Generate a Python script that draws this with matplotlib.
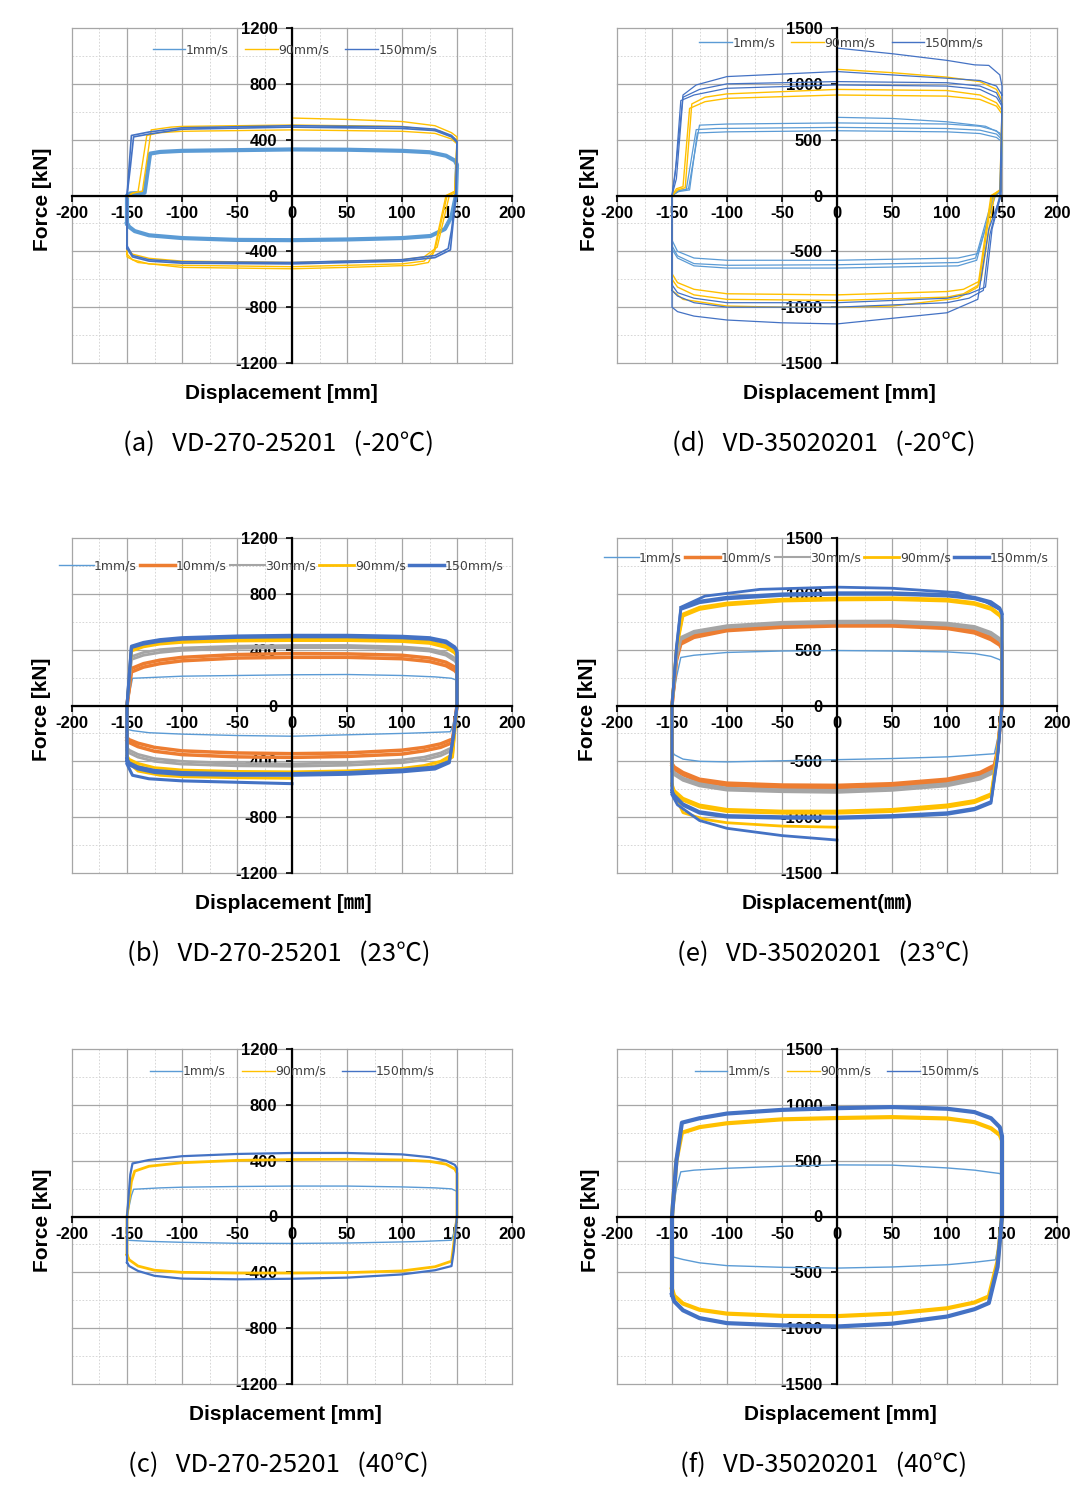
import matplotlib.pyplot as plt
import numpy as np
from matplotlib.lines import Line2D

plt.rcParams['axes.unicode_minus'] = False

C_1 = '#5B9BD5'
C_10 = '#ED7D31'
C_30 = '#A5A5A5'
C_90 = '#FFC000'
C_150 = '#4472C4'

# ---- (a) VD-270-25201 (-20C) : loops as (disp mm, force kN)
a_1mm = [(-150, -200), (-150, 0), (-147, 15), (-134, 20), (-129, 300), (-120, 312), (-100, 320),
         (-50, 325), (0, 330), (50, 328), (100, 320), (125, 310), (140, 285), (148, 250), (150, 220),
         (149, 0), (145, -150), (139, -240), (126, -290), (100, -305), (50, -315), (0, -320),
         (-50, -318), (-100, -305), (-130, -285), (-143, -255), (-148, -225), (-150, -200)]
a_90mm_1 = [(-150, -380), (-150, -20), (-146, 15), (-140, 25), (-132, 430), (-120, 450), (-100, 460),
            (0, 470), (100, 460), (130, 445), (145, 405), (150, 370), (149, 20), (143, 0), (132, -370),
            (120, -440), (100, -460), (0, -480), (-100, -470), (-130, -450), (-145, -420), (-150, -380)]
a_90mm_2 = [(-150, -420), (-150, -10), (-144, 20), (-136, 30), (-128, 470), (-110, 490), (-100, 495),
            (0, 505), (100, 495), (135, 460), (148, 410), (150, 390), (148, 30), (140, 0), (129, -400),
            (120, -470), (100, -490), (0, -510), (-100, -500), (-130, -490), (-145, -460), (-150, -420)]
a_90mm_0 = [(0, 555), (50, 545), (100, 530), (130, 500), (145, 450), (150, 420), (148, 30), (141, 0),
            (130, -390), (124, -480), (110, -500), (50, -515), (0, -525), (-50, -520), (-100, -515),
            (-140, -480), (-150, -440), (-150, -30)]
a_150mm_1 = [(-150, -360), (-150, 0), (-147, 200), (-144, 420), (-130, 440), (-100, 475), (0, 490),
             (100, 480), (130, 465), (145, 420), (150, 380), (149, 0), (145, -250), (142, -380),
             (130, -430), (100, -460), (0, -480), (-100, -475), (-130, -460), (-145, -430), (-150, -360)]
a_150mm_2 = [(-150, -380), (-150, 0), (-146, 430), (-130, 455), (-100, 485), (0, 500), (100, 492),
             (130, 475), (145, 430), (150, 390), (149, 0), (144, -390), (130, -445), (100, -470),
             (0, -490), (-100, -485), (-130, -470), (-145, -440), (-150, -380)]

# ---- (d) VD-35020201 (-20C)
d_1mm_1 = [(-150, -400), (-150, 0), (-145, 40), (-137, 55), (-128, 590), (-110, 600), (0, 610),
           (100, 600), (130, 585), (145, 550), (150, 500), (149, 40), (144, 0), (128, -520),
           (110, -560), (0, -580), (-100, -580), (-130, -560), (-145, -500), (-150, -400)]
d_1mm_2 = [(-150, -450), (-150, 0), (-143, 45), (-135, 60), (-125, 630), (-100, 640), (0, 650),
           (100, 640), (130, 620), (145, 580), (150, 520), (148, 40), (142, 0), (126, -560),
           (110, -600), (0, -620), (-100, -625), (-130, -610), (-145, -540), (-150, -450)]
d_1mm_3 = [(-150, -480), (-150, 0), (-144, 35), (-134, 50), (-127, 560), (-100, 570), (0, 580),
           (100, 570), (130, 555), (145, 520), (150, 480), (149, 30), (143, 0), (127, -580),
           (110, -630), (0, -650), (-100, -650), (-130, -630), (-145, -560), (-150, -480)]
d_1mm_0 = [(0, 700), (50, 690), (100, 660), (135, 620), (148, 560), (150, 520)]
d_90mm_1 = [(-150, -700), (-150, 0), (-146, 60), (-140, 80), (-134, 780), (-120, 840), (-100, 870),
            (0, 900), (100, 890), (130, 860), (145, 800), (150, 730), (149, 60), (143, 0), (131, -760),
            (115, -840), (100, -860), (0, -890), (-100, -880), (-130, -840), (-145, -780), (-150, -700)]
d_90mm_2 = [(-150, -750), (-150, 0), (-145, 50), (-138, 70), (-132, 820), (-120, 880), (-100, 910),
            (0, 950), (100, 940), (130, 900), (145, 830), (150, 760), (148, 50), (141, 0), (129, -800),
            (115, -880), (100, -910), (0, -940), (-100, -930), (-130, -890), (-145, -820), (-150, -750)]
d_90mm_0 = [(0, 1130), (50, 1100), (100, 1060), (130, 1020), (145, 950), (150, 850), (149, 50),
            (140, 0), (128, -820), (110, -920), (50, -990), (0, -1000), (-50, -1000), (-100, -990),
            (-140, -930), (-150, -850), (-150, 0)]
d_150mm_1 = [(-150, -800), (-150, 0), (-147, 200), (-142, 850), (-130, 900), (-100, 960), (0, 990),
             (100, 980), (130, 950), (145, 880), (150, 800), (149, 0), (141, -300), (135, -820),
             (120, -880), (100, -920), (0, -960), (-100, -960), (-130, -920), (-145, -870), (-150, -800)]
d_150mm_2 = [(-150, -850), (-150, 0), (-146, 150), (-140, 880), (-125, 950), (-100, 1000), (0, 1020),
             (100, 1010), (130, 980), (145, 920), (150, 820), (148, 0), (139, -350), (133, -850),
             (120, -920), (100, -960), (0, -1000), (-100, -1000), (-130, -960), (-145, -900), (-150, -850)]
d_150mm_0 = [(0, 1320), (50, 1270), (100, 1210), (125, 1170), (138, 1165), (148, 1080), (150, 980),
             (149, 0), (138, -300), (128, -930), (100, -1050), (50, -1100), (0, -1150), (-50, -1140),
             (-100, -1115), (-130, -1080), (-145, -1040), (-150, -1000), (-150, 0), (-146, 300),
             (-140, 900), (-128, 990), (-100, 1065), (0, 1110), (100, 1050), (130, 1030), (145, 980),
             (150, 900)]

# ---- (b) VD-270-25201 (23C)
b_1mm = [(-150, -170), (-150, 0), (-145, 195), (-130, 200), (-100, 210), (-50, 215), (0, 220),
         (50, 222), (100, 215), (130, 205), (145, 195), (150, 180), (150, 0), (146, -150), (144, -188),
         (120, -195), (100, -200), (50, -210), (0, -220), (-50, -215), (-100, -205), (-130, -195),
         (-145, -180), (-150, -170)]
b_10mm_1 = [(-150, -230), (-150, 0), (-146, 240), (-135, 275), (-120, 300), (-100, 320), (-50, 340),
            (0, 345), (50, 345), (100, 335), (125, 315), (140, 285), (148, 250), (150, 230), (150, 0),
            (146, -240), (135, -275), (120, -300), (100, -320), (50, -340), (0, -345), (-50, -340),
            (-100, -325), (-125, -300), (-140, -270), (-148, -245), (-150, -230)]
b_10mm_2 = [(-150, -250), (-150, 0), (-146, 265), (-135, 300), (-120, 325), (-100, 345), (-50, 365),
            (0, 372), (50, 370), (100, 360), (125, 340), (140, 310), (148, 275), (150, 255), (150, 0),
            (146, -265), (135, -300), (120, -325), (100, -348), (50, -365), (0, -372), (-50, -368),
            (-100, -352), (-125, -328), (-140, -295), (-148, -265), (-150, -250)]
b_30mm_1 = [(-150, -300), (-150, 0), (-146, 330), (-135, 360), (-120, 380), (-100, 395), (-50, 410),
            (0, 415), (50, 415), (100, 405), (125, 390), (140, 360), (148, 320), (150, 295), (150, 0),
            (146, -300), (135, -340), (120, -370), (100, -390), (50, -410), (0, -418), (-50, -415),
            (-100, -400), (-125, -380), (-140, -350), (-148, -320), (-150, -300)]
b_30mm_2 = [(-150, -320), (-150, 0), (-146, 350), (-135, 380), (-120, 400), (-100, 412), (-50, 425),
            (0, 430), (50, 430), (100, 420), (125, 405), (140, 378), (148, 340), (150, 315), (150, 0),
            (146, -320), (135, -360), (120, -390), (100, -410), (50, -428), (0, -435), (-50, -432),
            (-100, -420), (-125, -400), (-140, -370), (-148, -340), (-150, -320)]
b_90mm_1 = [(-150, -360), (-150, 0), (-146, 390), (-135, 420), (-120, 440), (-100, 452), (-50, 462),
            (0, 465), (50, 465), (100, 458), (125, 445), (140, 415), (148, 375), (150, 345), (150, 0),
            (146, -350), (135, -400), (120, -430), (100, -450), (50, -468), (0, -475), (-50, -472),
            (-100, -462), (-125, -445), (-140, -415), (-148, -385), (-150, -360)]
b_90mm_2 = [(-150, -380), (-150, 0), (-146, 405), (-135, 435), (-120, 455), (-100, 466), (-50, 476),
            (0, 480), (50, 480), (100, 472), (125, 458), (140, 430), (148, 390), (150, 360), (150, 0),
            (146, -370), (135, -420), (120, -450), (100, -468), (50, -485), (0, -492), (-50, -490),
            (-100, -480), (-125, -465), (-140, -435), (-148, -400), (-150, -380)]
b_90mm_0 = [(-150, -400), (-140, -470), (-120, -500), (-100, -510), (-50, -518), (0, -522)]
b_150mm_1 = [(-150, -380), (-150, 0), (-146, 415), (-135, 440), (-120, 460), (-100, 475), (-50, 488),
             (0, 492), (50, 492), (100, 485), (125, 475), (140, 450), (148, 410), (150, 380), (150, 0),
             (147, -200), (143, -400), (130, -440), (100, -462), (50, -480), (0, -488), (-50, -488),
             (-100, -480), (-125, -465), (-140, -440), (-148, -410), (-150, -380)]
b_150mm_2 = [(-150, -400), (-150, 0), (-146, 425), (-135, 452), (-120, 472), (-100, 486), (-50, 498),
             (0, 503), (50, 503), (100, 496), (125, 486), (140, 462), (148, 420), (150, 395), (150, 0),
             (147, -210), (143, -410), (130, -455), (100, -475), (50, -493), (0, -500), (-50, -500),
             (-100, -495), (-125, -480), (-140, -455), (-148, -425), (-150, -400)]
b_150mm_0 = [(-150, -420), (-145, -500), (-130, -525), (-100, -540), (-50, -550), (0, -560)]

# ---- (e) VD-35020201 (23C)
e_1mm = [(-150, -400), (-150, 0), (-146, 250), (-142, 430), (-130, 450), (-100, 475), (-50, 488),
         (0, 492), (50, 488), (100, 480), (125, 465), (140, 440), (148, 410), (150, 385), (150, 0),
         (146, -300), (143, -432), (120, -448), (100, -460), (50, -475), (0, -485), (-50, -495),
         (-100, -505), (-125, -500), (-140, -480), (-148, -440), (-150, -400)]
e_10mm_1 = [(-150, -520), (-150, 0), (-146, 400), (-142, 550), (-130, 610), (-100, 670), (-50, 700),
            (0, 712), (50, 712), (100, 690), (125, 650), (140, 590), (148, 540), (150, 505), (150, 0),
            (146, -400), (143, -535), (130, -600), (100, -660), (50, -700), (0, -715), (-50, -712),
            (-100, -695), (-125, -660), (-140, -600), (-148, -550), (-150, -520)]
e_10mm_2 = [(-150, -540), (-150, 0), (-146, 420), (-142, 570), (-130, 630), (-100, 690), (-50, 720),
            (0, 730), (50, 730), (100, 710), (125, 670), (140, 610), (148, 560), (150, 525), (150, 0),
            (146, -420), (143, -555), (130, -620), (100, -680), (50, -720), (0, -735), (-50, -732),
            (-100, -715), (-125, -680), (-140, -620), (-148, -570), (-150, -540)]
e_30mm_1 = [(-150, -570), (-150, 0), (-146, 420), (-142, 590), (-130, 650), (-100, 700), (-50, 730),
            (0, 740), (50, 742), (100, 720), (125, 690), (140, 635), (148, 580), (150, 550), (150, 0),
            (146, -420), (143, -580), (130, -640), (100, -700), (50, -740), (0, -760), (-50, -755),
            (-100, -740), (-125, -700), (-140, -650), (-148, -600), (-150, -570)]
e_30mm_2 = [(-150, -590), (-150, 0), (-146, 440), (-142, 610), (-130, 665), (-100, 715), (-50, 745),
            (0, 755), (50, 757), (100, 738), (125, 708), (140, 655), (148, 600), (150, 570), (150, 0),
            (146, -440), (143, -600), (130, -660), (100, -720), (50, -760), (0, -778), (-50, -772),
            (-100, -758), (-125, -720), (-140, -670), (-148, -620), (-150, -590)]
e_90mm_1 = [(-150, -700), (-150, 0), (-146, 500), (-140, 800), (-125, 860), (-100, 900), (-50, 935),
            (0, 945), (50, 948), (100, 935), (125, 905), (140, 860), (148, 800), (150, 760), (150, 0),
            (146, -400), (140, -790), (125, -850), (100, -890), (50, -930), (0, -945), (-50, -945),
            (-100, -930), (-125, -890), (-140, -830), (-148, -760), (-150, -700)]
e_90mm_2 = [(-150, -720), (-150, 0), (-146, 520), (-140, 820), (-125, 880), (-100, 918), (-50, 952),
            (0, 962), (50, 965), (100, 952), (125, 922), (140, 878), (148, 818), (150, 778), (150, 0),
            (146, -420), (140, -810), (125, -870), (100, -910), (50, -950), (0, -965), (-50, -965),
            (-100, -950), (-125, -910), (-140, -850), (-148, -780), (-150, -720)]
e_90mm_0 = [(-150, -760), (-140, -960), (-120, -1020), (-100, -1050), (-50, -1080), (0, -1090)]
e_150mm_1 = [(-150, -760), (-150, 0), (-146, 500), (-142, 860), (-125, 920), (-100, 955), (-50, 985),
             (0, 995), (50, 995), (100, 980), (125, 955), (140, 915), (148, 860), (150, 820), (150, 0),
             (146, -450), (140, -860), (125, -920), (100, -960), (50, -985), (0, -998), (-50, -995),
             (-100, -985), (-125, -950), (-140, -880), (-148, -800), (-150, -760)]
e_150mm_2 = [(-150, -780), (-150, 0), (-146, 520), (-142, 875), (-125, 935), (-100, 970), (-50, 1000),
             (0, 1010), (50, 1010), (100, 995), (125, 970), (140, 930), (148, 875), (150, 835), (150, 0),
             (146, -465), (140, -875), (125, -935), (100, -975), (50, -1000), (0, -1012), (-50, -1010),
             (-100, -1000), (-125, -965), (-140, -895), (-148, -815), (-150, -780)]
e_150mm_0a = [(-142, 880), (-120, 980), (-70, 1040), (0, 1060), (50, 1050), (110, 1010), (135, 930),
              (148, 860), (150, 820)]
e_150mm_0b = [(-150, -800), (-145, -890), (-125, -1030), (-100, -1100), (-50, -1165), (0, -1205)]

# ---- (c) VD-270-25201 (40C)
c_1mm = [(-150, -170), (-150, 0), (-146, 150), (-144, 195), (-120, 205), (-100, 210), (-50, 215),
         (0, 218), (50, 218), (100, 212), (130, 205), (145, 198), (150, 180), (150, 0), (147, -120),
         (145, -170), (120, -178), (100, -182), (50, -190), (0, -193), (-50, -192), (-100, -185),
         (-130, -178), (-145, -172), (-150, -170)]
c_90mm = [(-150, -275), (-150, 0), (-146, 250), (-143, 325), (-130, 360), (-100, 385), (-50, 402),
          (0, 408), (50, 410), (100, 405), (125, 395), (140, 375), (148, 340), (150, 310), (150, 0),
          (147, -200), (145, -320), (130, -360), (100, -390), (50, -402), (0, -405), (-50, -405),
          (-100, -400), (-125, -385), (-140, -355), (-148, -310), (-150, -275)]
c_150mm = [(-150, -330), (-150, 0), (-147, 300), (-145, 380), (-130, 405), (-100, 432), (-50, 448),
           (0, 455), (50, 455), (100, 445), (125, 425), (140, 400), (148, 370), (150, 345), (150, 0),
           (147, -250), (145, -355), (130, -385), (100, -415), (50, -438), (0, -446), (-50, -450),
           (-100, -445), (-125, -425), (-140, -390), (-148, -355), (-150, -330)]

# ---- (f) VD-35020201 (40C)
f_1mm = [(-150, -355), (-150, 0), (-146, 250), (-142, 400), (-130, 415), (-100, 432), (-50, 450),
         (0, 462), (50, 460), (100, 435), (125, 415), (140, 395), (148, 385), (150, 360), (150, 0),
         (147, -250), (144, -388), (125, -410), (100, -432), (50, -452), (0, -462), (-50, -455),
         (-100, -440), (-125, -415), (-140, -385), (-148, -365), (-150, -355)]
f_90mm = [(-150, -650), (-150, 0), (-146, 500), (-141, 750), (-125, 800), (-100, 835), (-50, 870),
          (0, 882), (50, 890), (100, 878), (125, 845), (140, 790), (148, 730), (150, 680), (150, 0),
          (146, -400), (138, -716), (125, -770), (100, -822), (50, -870), (0, -892), (-50, -890),
          (-100, -870), (-125, -835), (-140, -780), (-148, -710), (-150, -650)]
f_150mm = [(-150, -700), (-150, 0), (-146, 500), (-141, 840), (-125, 880), (-100, 922), (-50, 955),
           (0, 970), (50, 980), (100, 965), (125, 935), (140, 880), (148, 800), (150, 720), (150, 0),
           (146, -450), (138, -775), (125, -830), (100, -896), (50, -960), (0, -985), (-50, -975),
           (-100, -955), (-125, -910), (-140, -840), (-148, -760), (-150, -700)]

X_TICKS = [-200, -150, -100, -50, 0, 50, 100, 150, 200]
Y_TICKS_270 = [-1200, -800, -400, 0, 400, 800, 1200]
Y_TICKS_350 = [-1500, -1000, -500, 0, 500, 1000, 1500]

LABEL_FONT = ['Liberation Sans', 'Noto Sans CJK KR', 'DejaVu Sans']
CAP_FONT = ['Noto Sans CJK KR', 'DejaVu Sans']


def draw(ax, cycles, color, lw):
    for pts in cycles:
        xy = np.array(pts, dtype=float)
        ax.plot(xy[:, 0], xy[:, 1], color=color, lw=lw, solid_joinstyle='round', zorder=2)


def setup(ax, yticks, xlabel, xl_x, ylab_x, caption):
    lim = yticks[-1]
    step = yticks[1] - yticks[0]
    ax.set_xlim(-200, 200)
    ax.set_ylim(-lim, lim)
    # excel style grid, major solid / minor dotted
    for x in np.arange(-200, 201, 25):
        if x % 50 == 0:
            ax.axvline(x, color='#A6A6A6', lw=0.9, zorder=0.5, clip_on=False)
        else:
            ax.axvline(x, color='#D0D0D0', lw=0.6, ls=(0, (2, 2)), zorder=0.4)
    for y in np.arange(-lim, lim + 1, step / 2):
        if y % step == 0:
            ax.axhline(y, color='#A6A6A6', lw=0.9, zorder=0.5, clip_on=False)
        else:
            ax.axhline(y, color='#D0D0D0', lw=0.6, ls=(0, (2, 2)), zorder=0.4)
    for s in ['top', 'right']:
        ax.spines[s].set_visible(False)
    ax.spines['left'].set_position(('data', 0))
    ax.spines['bottom'].set_position(('data', 0))
    ax.spines['left'].set_linewidth(1.6)
    ax.spines['bottom'].set_linewidth(1.6)
    ax.set_xticks(X_TICKS)
    ax.set_xticklabels([str(v) for v in X_TICKS], fontweight='bold', family=LABEL_FONT)
    ax.set_yticks(yticks)
    ax.set_yticklabels([str(v) for v in yticks], fontweight='bold', family=LABEL_FONT)
    ax.tick_params(axis='x', direction='out', length=4, width=1.2, pad=3.5, labelsize=12)
    ax.tick_params(axis='y', direction='out', length=4.5, width=1.2, pad=6, labelsize=12)
    ax.text(ylab_x, 0.49, 'Force [kN]', rotation=90, transform=ax.transAxes, ha='center',
            va='center', fontsize=15, fontweight='bold', family=LABEL_FONT)
    ax.text(xl_x, -0.09, xlabel, transform=ax.transAxes, ha='center', va='center',
            fontsize=15, fontweight='bold', family=LABEL_FONT)
    ax.text(0.47, -0.242, caption, transform=ax.transAxes, ha='center', va='center',
            fontsize=18.5, family=CAP_FONT)


def legend(ax, entries, pos, spacing, hl):
    handles = [Line2D([], [], color=c, lw=w) for _, c, w in entries]
    labels = [t for t, _, _ in entries]
    ax.legend(handles, labels, loc='center', bbox_to_anchor=pos, ncol=len(entries),
              frameon=False, handlelength=hl, handletextpad=0.05,
              columnspacing=spacing, borderaxespad=0, borderpad=0,
              prop={'family': 'DejaVu Sans', 'size': 9}, labelcolor='#404040')


fig = plt.figure(figsize=(10.84, 14.97), dpi=100)
W, H = 440 / 1084, 335 / 1497
col_l = [72 / 1084, 617 / 1084]
row_b = [1 - 363 / 1497, 1 - 873 / 1497, 1 - 1384 / 1497]

# (a)
ax = fig.add_axes([col_l[0], row_b[0], W, H])
draw(ax, [a_1mm], C_1, 3.0)
draw(ax, [a_90mm_0, a_90mm_1, a_90mm_2], C_90, 1.0)
draw(ax, [a_150mm_1, a_150mm_2], C_150, 1.2)
setup(ax, Y_TICKS_270, 'Displacement [mm]', 0.475, -0.066, '(a)   VD-270-25201   (-20℃)')
legend(ax, [('1mm/s', C_1, 1.0), ('90mm/s', C_90, 1.0), ('150mm/s', C_150, 1.0)],
       (0.507, 0.935), 1.3, 2.6)

# (d)
ax = fig.add_axes([col_l[1], row_b[0], W, H])
draw(ax, [d_1mm_0, d_1mm_1, d_1mm_2, d_1mm_3], C_1, 0.9)
draw(ax, [d_90mm_0, d_90mm_1, d_90mm_2], C_90, 1.0)
draw(ax, [d_150mm_0, d_150mm_1, d_150mm_2], C_150, 0.9)
setup(ax, Y_TICKS_350, 'Displacement [mm]', 0.505, -0.062, '(d)   VD-35020201   (-20℃)')
legend(ax, [('1mm/s', C_1, 1.0), ('90mm/s', C_90, 1.0), ('150mm/s', C_150, 1.0)],
       (0.51, 0.955), 1.3, 2.6)

# (b)
ax = fig.add_axes([col_l[0], row_b[1], W, H])
draw(ax, [b_1mm], C_1, 1.0)
draw(ax, [b_10mm_1, b_10mm_2], C_10, 2.5)
draw(ax, [b_30mm_1, b_30mm_2], C_30, 2.0)
draw(ax, [b_90mm_0, b_90mm_1, b_90mm_2], C_90, 2.0)
draw(ax, [b_150mm_0, b_150mm_1, b_150mm_2], C_150, 2.2)
setup(ax, Y_TICKS_270, 'Displacement [㎜]', 0.48, -0.069, '(b)   VD-270-25201   (23℃)')
legend(ax, [('1mm/s', C_1, 1.0), ('10mm/s', C_10, 2.5), ('30mm/s', C_30, 1.5),
            ('90mm/s', C_90, 2.0), ('150mm/s', C_150, 2.5)], (0.475, 0.917), 0.25, 2.8)

# (e)
ax = fig.add_axes([col_l[1], row_b[1], W, H])
draw(ax, [e_1mm], C_1, 1.0)
draw(ax, [e_10mm_1, e_10mm_2], C_10, 2.5)
draw(ax, [e_30mm_1, e_30mm_2], C_30, 2.0)
draw(ax, [e_90mm_0, e_90mm_1, e_90mm_2], C_90, 2.0)
draw(ax, [e_150mm_0a, e_150mm_0b, e_150mm_1, e_150mm_2], C_150, 2.0)
setup(ax, Y_TICKS_350, 'Displacement(㎜)', 0.478, -0.066, '(e)   VD-35020201   (23℃)')
legend(ax, [('1mm/s', C_1, 1.0), ('10mm/s', C_10, 2.5), ('30mm/s', C_30, 1.5),
            ('90mm/s', C_90, 2.0), ('150mm/s', C_150, 2.5)], (0.475, 0.94), 0.25, 2.8)

# (c)
ax = fig.add_axes([col_l[0], row_b[2], W, H])
draw(ax, [c_1mm], C_1, 1.0)
draw(ax, [c_90mm], C_90, 2.0)
draw(ax, [c_150mm], C_150, 1.6)
setup(ax, Y_TICKS_270, 'Displacement [mm]', 0.484, -0.067, '(c)   VD-270-25201   (40℃)')
legend(ax, [('1mm/s', C_1, 1.0), ('90mm/s', C_90, 1.0), ('150mm/s', C_150, 1.0)],
       (0.50, 0.933), 1.3, 2.6)

# (f)
ax = fig.add_axes([col_l[1], row_b[2], W, H])
draw(ax, [f_1mm], C_1, 1.0)
draw(ax, [f_90mm], C_90, 3.0)
draw(ax, [f_150mm], C_150, 3.0)
setup(ax, Y_TICKS_350, 'Displacement [mm]', 0.507, -0.061, '(f)   VD-35020201   (40℃)')
legend(ax, [('1mm/s', C_1, 1.0), ('90mm/s', C_90, 1.0), ('150mm/s', C_150, 1.0)],
       (0.50, 0.933), 1.3, 2.6)

fig.savefig('out.png', dpi=100)
